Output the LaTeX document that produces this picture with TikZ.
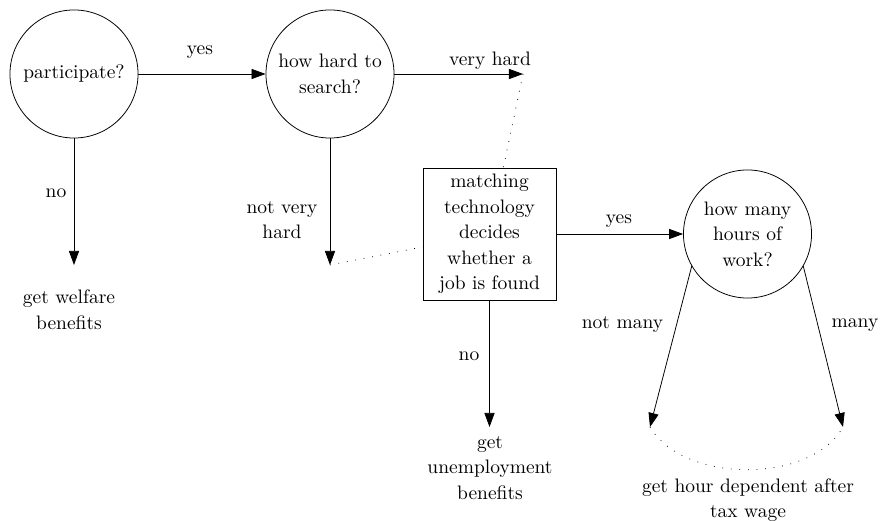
\documentclass[tikz,border=0pt]{standalone}
\usetikzlibrary{arrows.meta}
\begin{document}
\begin{tikzpicture}[x=0.513pt,y=-0.513pt,
  font=\fontsize{10}{13.1}\selectfont,
  decision/.style={circle,draw,minimum size=65.7pt,inner sep=0pt,align=center},
  matchbox/.style={rectangle,draw,minimum width=68.2pt,minimum height=67.7pt,inner sep=0pt,align=center},
  lbl/.style={inner sep=0pt,align=center},
  arr/.style={-{Triangle[length=7.2pt,width=5.2pt]}},
  dots/.style={loosely dotted}]
\useasboundingbox (0,0) rectangle (881,521);
% decision nodes
\node[decision] (c1) at (74,74) {participate?};
\node[decision] (c2) at (330,74) {how hard to\\search?};
\node[matchbox] (m) at (489.5,234) {matching\\technology\\decides\\whether a\\job is found};
\node[decision] (c3) at (747.5,234) {how many\\hours of\\work?};
% free ends
\coordinate (vh) at (523,74);
\coordinate (nv) at (330,265);
\coordinate (wf) at (74,265);
\coordinate (ue) at (489.5,427);
\coordinate (hl) at (650,427);
\coordinate (hr) at (843,427);
% connectors
\draw[arr] (c1.east) -- (c2.west);
\draw[arr] (c2.east) -- (vh);
\draw[arr] (c1.south) -- (wf);
\draw[arr] (c2.south) -- (nv);
\draw[arr] (m.east) -- (c3.west);
\draw[arr] (m.south) -- (ue);
\draw[arr] (c3.-150) -- (hl);
\draw[arr] (c3.-30) -- (hr);
\draw[dots] (vh) -- (m);
\draw[dots] (nv) -- (m);
\draw[dots] (hl) .. controls (684,484) and (811,484) .. (hr);
% labels
\node[lbl] (l1) at (200,52) {yes};
\node[lbl] (l2) at (490,60.5) {very hard};
\node[lbl] (l3) at (56,193.5) {no};
\node[lbl] (l4) at (282,220) {not very\\hard};
\node[lbl] (t1) at (69,310) {get welfare\\benefits};
\node[lbl] (l5) at (619,221) {yes};
\node[lbl] (l6) at (469,356) {no};
\node[lbl] (t2) at (490,468) {get\\unemployment\\benefits};
\node[lbl] (l7) at (622.5,325) {not many};
\node[lbl] (l8) at (855,325) {many};
\node[lbl] (t3) at (748,500) {get hour dependent after\\tax wage};
\end{tikzpicture}
\end{document}
